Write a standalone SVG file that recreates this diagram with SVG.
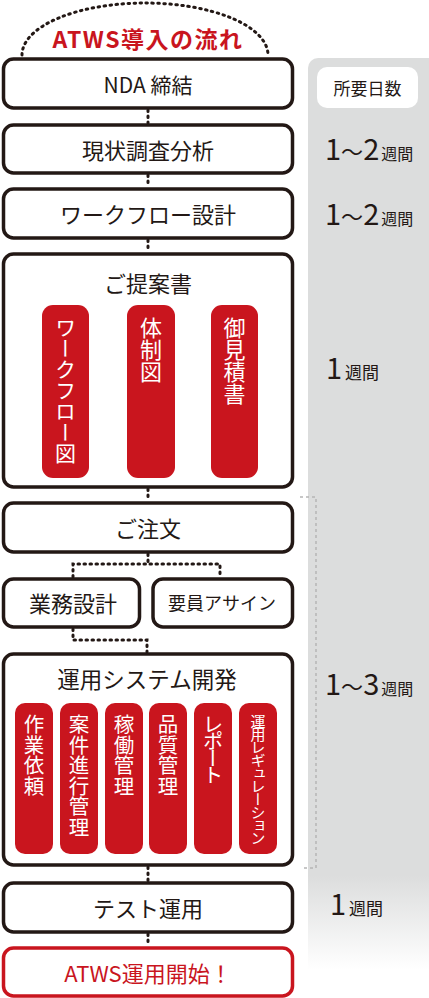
<svg xmlns="http://www.w3.org/2000/svg" width="429" height="998" viewBox="0 0 429 998">
<defs>
<linearGradient id="col" x1="0" y1="58" x2="0" y2="998" gradientUnits="userSpaceOnUse">
<stop offset="0" stop-color="#dcdddd"/>
<stop offset="0.87" stop-color="#dcdddd"/>
<stop offset="0.97" stop-color="#ffffff"/>
<stop offset="1" stop-color="#ffffff"/>
</linearGradient>
<style>
.box{fill:#fff;stroke:#231815;stroke-width:3.5}
.rbox{fill:#fff;stroke:#c9151e;stroke-width:3.5}
.pill{fill:#c9151e}
.t{font-family:"Noto Sans CJK JP","Noto Sans",sans-serif;fill:#231815;text-anchor:middle}
.v{font-family:"Noto Sans CJK JP","Noto Sans",sans-serif;fill:#fff;writing-mode:vertical-rl;text-anchor:start}
.r{font-family:"Noto Sans CJK JP","Noto Sans",sans-serif;fill:#231815}
.con{fill:none;stroke:#231815;stroke-width:3;stroke-linecap:round;stroke-dasharray:1.5 4.5}
.gd{fill:none;stroke:#b5b5b5;stroke-width:1.5;stroke-dasharray:3 3}
</style>
</defs>
<g id="column">
<path d="M308,68 a10,10 0 0 1 10,-10 H429 V998 H308 Z" fill="url(#col)"/>
<rect x="317" y="67" width="101" height="41" rx="10" fill="#fff"/>
<text class="t" x="367.5" y="95" font-size="17">所要日数</text>
<text class="r" x="325" y="160"><tspan font-size="29">1</tspan><tspan font-size="22">～</tspan><tspan font-size="29">2</tspan><tspan font-size="16" dx="2">週間</tspan></text>
<text class="r" x="325" y="225"><tspan font-size="29">1</tspan><tspan font-size="22">～</tspan><tspan font-size="29">2</tspan><tspan font-size="16" dx="2">週間</tspan></text>
<text class="r" x="326" y="379"><tspan font-size="29">1</tspan><tspan font-size="17" dx="3">週間</tspan></text>
<text class="r" x="325" y="695"><tspan font-size="29">1</tspan><tspan font-size="22">～</tspan><tspan font-size="29">3</tspan><tspan font-size="16" dx="2">週間</tspan></text>
<text class="r" x="330" y="915"><tspan font-size="29">1</tspan><tspan font-size="17" dx="3">週間</tspan></text>
<path class="gd" d="M300,497 H316 V868 H302"/>
</g>
<g id="connectors">
<path class="con" d="M22,55 A123,52 0 0 1 268,55"/>
<path class="con" d="M148,110 V123"/>
<path class="con" d="M148,175 V187"/>
<path class="con" d="M148,240 V252"/>
<path class="con" d="M148,489 V501"/>
<path class="con" d="M148,554 V564 M73,577 V564 H220 V577"/>
<path class="con" d="M73,629 V640 H147 V652"/>
<path class="con" d="M148,867 V881"/>
<path class="con" d="M148,934 V946"/>
</g>
<g id="title">
<text x="148" y="48" font-family="'Noto Sans CJK JP','Noto Sans',sans-serif" font-size="23" font-weight="bold" fill="#c9151e" text-anchor="middle" letter-spacing="1.5">ATWS導入の流れ</text>
</g>
<g id="nda">
<rect class="box" x="3.5" y="59" width="289" height="49" rx="10"/>
<text class="t" x="148" y="93" font-size="21">NDA 締結</text>
</g>
<g id="genjo">
<rect class="box" x="3.5" y="125" width="289" height="48" rx="10"/>
<text class="t" x="148" y="159" font-size="22">現状調査分析</text>
</g>
<g id="workflow">
<rect class="box" x="3.5" y="189" width="289" height="49" rx="10"/>
<text class="t" x="148" y="223" font-size="22">ワークフロー設計</text>
</g>
<g id="teian">
<rect class="box" x="3.5" y="254" width="289" height="233" rx="10"/>
<text class="t" x="148" y="292" font-size="22">ご提案書</text>
<rect class="pill" x="42" y="305" width="47" height="173" rx="11"/>
<text class="v" x="65.5" y="317" font-size="21">ワークフロー図</text>
<rect class="pill" x="127" y="305" width="48" height="173" rx="11"/>
<text class="v" x="151" y="317" font-size="22">体制図</text>
<rect class="pill" x="211" y="305" width="47" height="173" rx="11"/>
<text class="v" x="234.5" y="317" font-size="22">御見積書</text>
</g>
<g id="chumon">
<rect class="box" x="3.5" y="503" width="289" height="49" rx="10"/>
<text class="t" x="148" y="537" font-size="22">ご注文</text>
</g>
<g id="gyomu">
<rect class="box" x="3.5" y="579" width="136" height="48" rx="10"/>
<text class="t" x="73" y="612" font-size="22">業務設計</text>
</g>
<g id="yoin">
<rect class="box" x="153" y="579" width="139.5" height="48" rx="10"/>
<text class="t" x="222" y="610" font-size="18">要員アサイン</text>
</g>
<g id="unyo">
<rect class="box" x="3.5" y="654" width="289" height="211" rx="10"/>
<text class="t" x="147" y="688" font-size="22.5">運用システム開発</text>
<rect class="pill" x="15" y="703" width="38" height="151" rx="10"/>
<text class="v" x="34" y="714" font-size="20.5">作業依頼</text>
<rect class="pill" x="60" y="703" width="38" height="151" rx="10"/>
<text class="v" x="79" y="714" font-size="20.5">案件進行管理</text>
<rect class="pill" x="105" y="703" width="38" height="151" rx="10"/>
<text class="v" x="124" y="714" font-size="20.5">稼働管理</text>
<rect class="pill" x="149" y="703" width="38" height="151" rx="10"/>
<text class="v" x="168" y="714" font-size="20.5">品質管理</text>
<rect class="pill" x="194" y="703" width="38" height="151" rx="10"/>
<text class="v" x="213" y="714" font-size="20.5" letter-spacing="-3.5">レポート</text>
<rect class="pill" x="239" y="703" width="38" height="151" rx="10"/>
<text class="v" x="258" y="714" font-size="15" letter-spacing="-2">運用レギュレーション</text>
</g>
<g id="test">
<rect class="box" x="3.5" y="883" width="289" height="49" rx="10"/>
<text class="t" x="148" y="917" font-size="22">テスト運用</text>
</g>
<g id="start">
<rect class="rbox" x="3.5" y="948" width="289" height="48" rx="10"/>
<text class="t" x="148" y="982" font-size="22" fill="#c9151e" style="fill:#c9151e">ATWS運用開始！</text>
</g>
</svg>
